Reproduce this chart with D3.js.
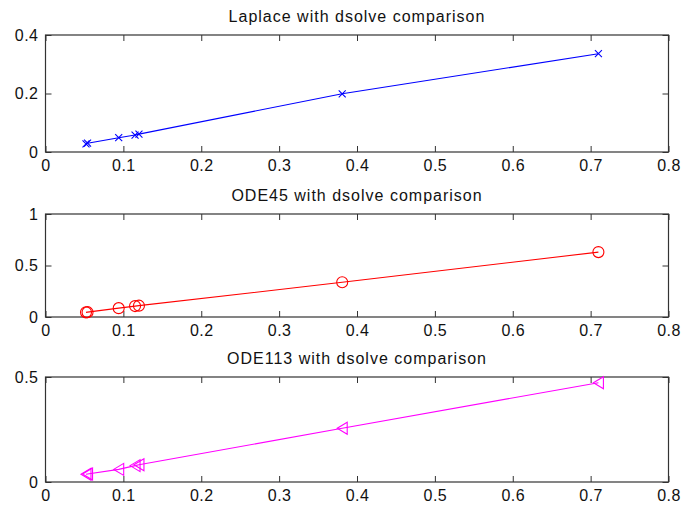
<!DOCTYPE html>
<html>
<head>
<meta charset="utf-8">
<script src="https://cdn.jsdelivr.net/npm/d3@7"></script>
<style>
  html, body { margin: 0; padding: 0; background: #fff; }
  svg { display: block; }
  text { font-family: "Liberation Sans", Arial, sans-serif; fill: #111; }
</style>
</head>
<body>
<div id="chart"></div>
<script>
// values
const xVals = [0.052, 0.054, 0.094, 0.115, 0.120, 0.381, 0.710];
const laplaceVals = [0.028, 0.030, 0.049, 0.058, 0.061, 0.199, 0.336];
const ode45Vals = [0.045, 0.047, 0.086, 0.106, 0.110, 0.337, 0.630];
const ode113Vals = [0.037, 0.038, 0.060, 0.078, 0.082, 0.256, 0.473];

const titles = ['Laplace with dsolve comparison', 'ODE45 with dsolve comparison', 'ODE113 with dsolve comparison'];
const xTicks = [0, 0.1, 0.2, 0.3, 0.4, 0.5, 0.6, 0.7, 0.8];
const yTicksLaplace = [0, 0.2, 0.4];
const yTicksOde45 = [0, 0.5, 1];
const yTicksOde113 = [0, 0.5];

const width = 683, height = 508;
const left = 45.5, right = 668.5;

const panels = [
    { title: titles[0], ys: laplaceVals, ticks: yTicksLaplace, top: 35, bottom: 152, color: '#0000ff', marker: 'x' },
    { title: titles[1], ys: ode45Vals, ticks: yTicksOde45, top: 214, bottom: 317, color: '#ff0000', marker: 'o' },
    { title: titles[2], ys: ode113Vals, ticks: yTicksOde113, top: 377, bottom: 482, color: '#ff00ff', marker: '<' }
];

const svg = d3.select('#chart').append('svg')
    .attr('width', width)
    .attr('height', height);

const x = d3.scaleLinear().domain([0, 0.8]).range([left, right]);
const fmt = d3.format('~g');

panels.forEach(p => {
    const yMax = p.ticks[p.ticks.length - 1];
    const y = d3.scaleLinear().domain([0, yMax]).range([p.bottom, p.top]);
    const g = svg.append('g');

    // title (the original is a bit wider than plain Arial)
    g.append('text')
        .attr('x', (left + right) / 2)
        .attr('y', p.top - 13)
        .attr('text-anchor', 'middle')
        .style('font-size', '16px')
        .style('letter-spacing', '1px')
        .text(p.title);

    // ticks on all four sides, pointing inwards
    const styleAxis = sel => {
        sel.select('.domain').remove();
        sel.selectAll('line').attr('stroke', '#333');
        sel.selectAll('text').style('font-size', '16px').style('letter-spacing', '0.5px').attr('fill', '#111');
    };

    g.append('g').attr('transform', `translate(0,${p.bottom})`)
        .call(d3.axisBottom(x).tickValues(xTicks).tickSizeInner(-6).tickSizeOuter(0).tickPadding(8).tickFormat(fmt))
        .call(styleAxis);
    g.append('g').attr('transform', `translate(0,${p.top})`)
        .call(d3.axisTop(x).tickValues(xTicks).tickSizeInner(-6).tickSizeOuter(0).tickFormat(''))
        .call(styleAxis);
    g.append('g').attr('transform', `translate(${left},0)`)
        .call(d3.axisLeft(y).tickValues(p.ticks).tickSizeInner(-6).tickSizeOuter(0).tickPadding(7).tickFormat(fmt))
        .call(styleAxis);
    g.append('g').attr('transform', `translate(${right},0)`)
        .call(d3.axisRight(y).tickValues(p.ticks).tickSizeInner(-6).tickSizeOuter(0).tickFormat(''))
        .call(styleAxis);

    // box
    g.append('rect')
        .attr('x', left).attr('y', p.top)
        .attr('width', right - left).attr('height', p.bottom - p.top)
        .attr('fill', 'none').attr('stroke', '#333').attr('stroke-width', 1.2);

    const pts = xVals.map((xv, i) => [x(xv), y(p.ys[i])]);

    g.append('path')
        .attr('d', d3.line()(pts))
        .attr('fill', 'none')
        .attr('stroke', p.color)
        .attr('stroke-width', 1.1);

    const m = g.selectAll('.marker').data(pts).enter().append('g')
        .attr('class', 'marker')
        .attr('transform', d => `translate(${d[0]},${d[1]})`);

    if (p.marker === 'x') {
        m.append('path').attr('d', 'M-3.5,-3.5L3.5,3.5M-3.5,3.5L3.5,-3.5')
            .attr('stroke', p.color).attr('stroke-width', 1.1).attr('fill', 'none');
    } else if (p.marker === 'o') {
        m.append('circle').attr('r', 5.5)
            .attr('stroke', p.color).attr('stroke-width', 1.1).attr('fill', 'none');
    } else {
        m.append('path').attr('d', 'M-5,0L5,-6L5,6Z')
            .attr('stroke', p.color).attr('stroke-width', 1.1).attr('fill', 'none');
    }
});
</script>
</body>
</html>
